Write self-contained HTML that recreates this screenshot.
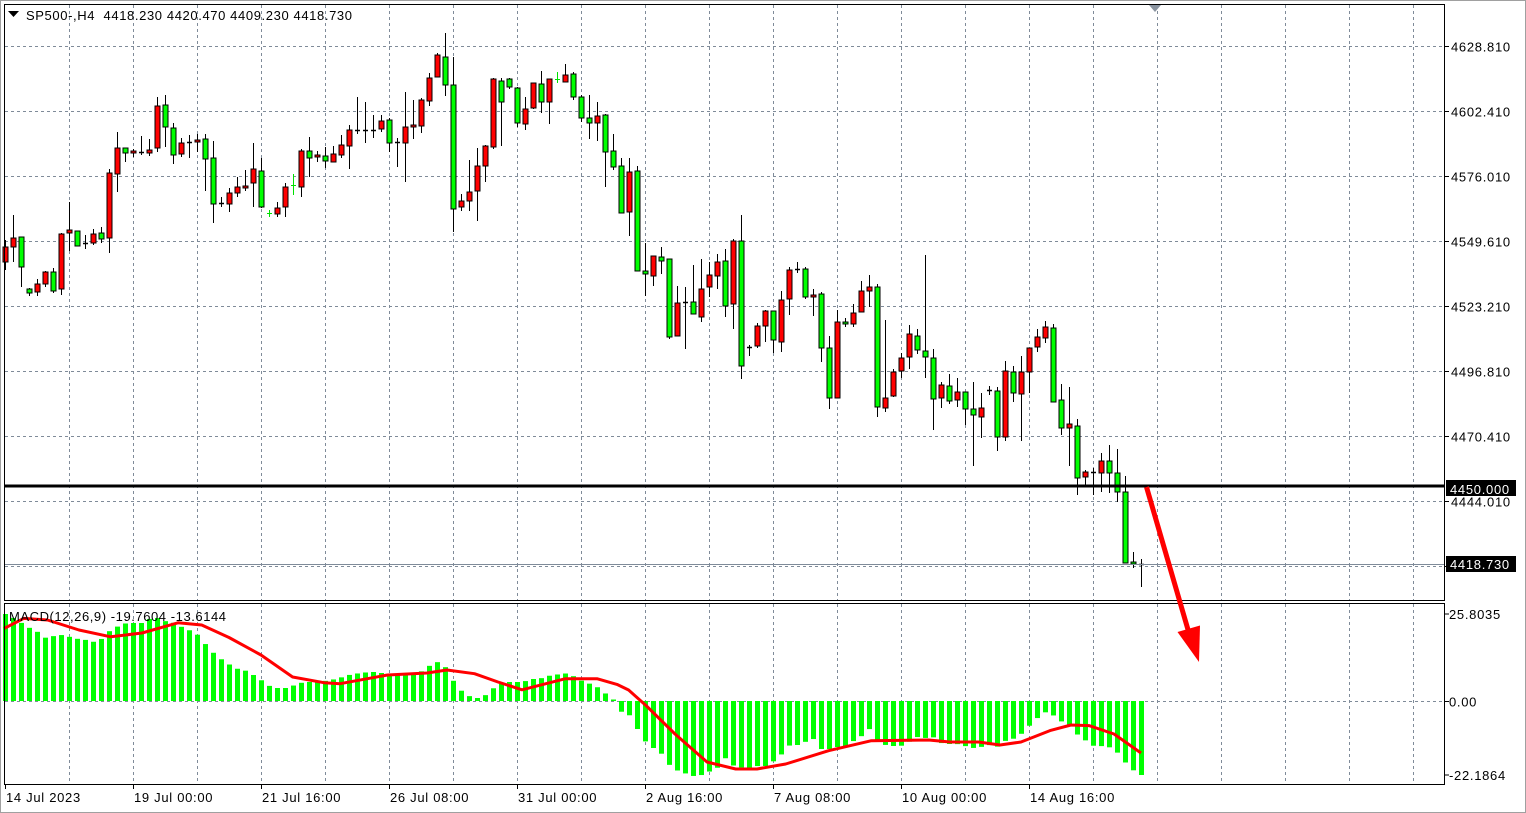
<!DOCTYPE html>
<html><head><meta charset="utf-8"><style>
html,body{margin:0;padding:0;background:#fff;}
svg{display:block;font-family:"Liberation Sans",Tahoma,sans-serif;}
</style></head><body>
<svg id="s" width="1526" height="813" xmlns="http://www.w3.org/2000/svg">
<rect x="0" y="0" width="1526" height="813" fill="#fff"/>
<rect x="0.5" y="0.5" width="1525" height="812" fill="none" stroke="#a0a0a0"/>
<g id="grid"></g>
<g id="macd"></g>
<g id="candles"></g>
<line x1="4" y1="564.5" x2="1445" y2="564.5" stroke="#7f8b99" stroke-width="1"/>
<line x1="4" y1="486" x2="1445" y2="486" stroke="#000" stroke-width="3"/>
<rect x="4.5" y="4.5" width="1440" height="596" fill="none" stroke="#000"/>
<rect x="4.5" y="603.5" width="1440" height="181" fill="none" stroke="#000"/>
<polygon points="1149,5 1161,5 1155,12" fill="#8a94a0"/>
<polygon points="8,11 19,11 13.5,17" fill="#000"/>
<text x="26" y="20" font-size="13" fill="#000" textLength="326" lengthAdjust="spacing" xml:space="preserve">SP500-,H4  4418.230 4420.470 4409.230 4418.730</text>
<text x="9" y="621" font-size="13" fill="#000" textLength="217" lengthAdjust="spacing">MACD(12,26,9) -19.7604 -13.6144</text>
<g id="axis" font-size="13" fill="#000" letter-spacing="0.7"></g>
<rect x="1446" y="480" width="70" height="16" fill="#000"/>
<text x="1450" y="494" font-size="13" fill="#fff" letter-spacing="0.7">4450.000</text>
<rect x="1446" y="556" width="70" height="16" fill="#000"/>
<text x="1450" y="569" font-size="13" fill="#fff" letter-spacing="0.7">4418.730</text>
<line x1="1146.5" y1="487" x2="1191" y2="640" stroke="#ff0000" stroke-width="5"/>
<polygon points="1177.5,632 1200,625.5 1199,662" fill="#ff0000"/>
</svg>
<script>
var NS="http://www.w3.org/2000/svg";
function el(p,t,a){var e=document.createElementNS(NS,t);for(var k in a)e.setAttribute(k,a[k]);document.getElementById(p).appendChild(e);return e;}
for(var x=69;x<=1413;x+=64){
 el("grid","line",{x1:x+.5,y1:5,x2:x+.5,y2:600,stroke:"#7f8b99","stroke-dasharray":"3,3"});
 el("grid","line",{x1:x+.5,y1:604,x2:x+.5,y2:784,stroke:"#7f8b99","stroke-dasharray":"3,3"});
}
var plab=["4628.810","4602.410","4576.010","4549.610","4523.210","4496.810","4470.410","4444.010"];
for(var k=0;k<9;k++){var y=46.5+65*k;
 el("grid","line",{x1:5,y1:y,x2:1444,y2:y,stroke:"#7f8b99","stroke-dasharray":"3,3"});
 el("axis","line",{x1:1445,y1:y,x2:1449,y2:y,stroke:"#000"});
 if(k<8){var t=el("axis","text",{x:1451,y:y+5});t.textContent=plab[k];}
}
el("grid","line",{x1:5,y1:701.5,x2:1444,y2:701.5,stroke:"#7f8b99","stroke-dasharray":"3,3"});
[[614,"25.8035"],[701.5,"0.00"],[775,"-22.1864"]].forEach(function(a){
 el("axis","line",{x1:1445,y1:a[0],x2:1449,y2:a[0],stroke:"#000"});
 var t=el("axis","text",{x:1449,y:a[0]+5});t.textContent=a[1];});
var xl=[[5,"14 Jul 2023"],[133,"19 Jul 00:00"],[261,"21 Jul 16:00"],[389,"26 Jul 08:00"],[517,"31 Jul 00:00"],[645,"2 Aug 16:00"],[773,"7 Aug 08:00"],[901,"10 Aug 00:00"],[1029,"14 Aug 16:00"]];
xl.forEach(function(a){el("axis","line",{x1:a[0]+.5,y1:784,x2:a[0]+.5,y2:789,stroke:"#000"});
 var t=el("axis","text",{x:a[0]+1,y:802});t.textContent=a[1];});
var C=[[240,270,247,262,"r"],[215,262,238,247,"r"],[237,287,237,267,"g"],[288,296,289,293,"g"],[279,296,284,292,"r"],[271,287,272,284,"r"],[268,293,272,291,"g"],[233,295,234,289,"r"],[202,251,230,233,"r"],[231,246,231,246,"g"],
[235,249,243,244,"k"],[229,245,234,243,"r"],[227,243,233,239,"g"],[169,253,173,238,"r"],[132,192,148,174,"r"],[148,162,148,153,"g"],[149,157,151,153,"r"],[136,155,152,153,"k"],[139,156,150,153,"r"],[97,152,106,148,"r"],
[95,147,105,127,"g"],[123,164,128,155,"g"],[138,157,143,154,"r"],[135,158,142,143,"k"],[134,152,140,142,"r"],[134,191,139,159,"g"],[141,223,158,204,"g"],[197,207,203,204,"k"],[188,212,193,204,"r"],[177,197,187,193,"r"],
[170,191,186,188,"r"],[143,207,169,183,"r"],[158,208,171,207,"g"],[210,217,213,214,"G"],[202,217,208,214,"r"],[183,217,187,207,"r"],[174,195,185,186,"G"],[149,197,151,187,"r"],[137,177,151,158,"g"],[151,162,155,157,"r"],
[147,168,156,161,"g"],[146,162,154,162,"r"],[135,158,145,155,"r"],[125,169,130,146,"r"],[97,134,130,131,"k"],[102,143,130,131,"k"],[115,138,130,131,"k"],[115,132,121,129,"r"],[118,152,120,143,"g"],[138,167,142,143,"k"],
[92,182,127,143,"r"],[100,139,125,127,"r"],[98,133,100,126,"r"],[73,106,78,101,"r"],[53,77,55,77,"r"],[33,96,57,85,"g"],[57,232,85,209,"g"],[194,211,201,207,"r"],[160,211,192,201,"r"],[148,221,166,191,"r"],
[145,182,146,166,"r"],[78,149,79,147,"r"],[78,146,81,102,"g"],[78,89,79,87,"g"],[87,127,88,123,"g"],[97,130,109,124,"r"],[83,109,83,108,"r"],[71,113,84,102,"g"],[79,124,79,102,"r"],[72,83,79,80,"G"],
[64,82,75,82,"r"],[72,100,74,97,"g"],[95,122,97,118,"g"],[95,139,118,123,"g"],[102,141,116,123,"r"],[114,187,115,152,"g"],[134,170,151,167,"g"],[158,213,166,213,"g"],[158,236,172,212,"r"],[166,271,171,271,"g"],
[243,296,271,274,"g"],[256,286,256,276,"r"],[247,274,257,261,"g"],[259,339,259,337,"g"],[286,336,303,336,"r"],[287,349,302,303,"k"],[265,314,302,314,"g"],[259,322,289,317,"r"],[262,297,275,287,"r"],[254,289,262,276,"r"],
[249,317,261,306,"g"],[239,329,241,304,"r"],[215,379,241,366,"g"],[345,356,347,348,"k"],[323,348,326,346,"r"],[310,342,311,326,"r"],[311,353,311,340,"g"],[291,352,300,342,"r"],[267,315,270,299,"r"],[262,273,269,270,"k"],
[267,299,269,297,"g"],[289,316,295,297,"r"],[292,362,294,348,"g"],[336,409,348,398,"g"],[310,398,322,398,"r"],[318,327,322,324,"g"],[304,327,313,324,"r"],[281,312,291,312,"r"],[275,307,287,291,"r"],[284,417,287,407,"g"],
[320,412,398,408,"r"],[369,397,372,396,"r"],[353,378,358,371,"r"],[325,369,334,357,"r"],[329,354,336,350,"g"],[255,378,351,357,"g"],[349,430,358,399,"g"],[382,408,385,398,"r"],[374,404,386,401,"g"],[378,407,392,400,"r"],
[392,425,392,409,"g"],[382,466,409,415,"g"],[393,438,408,417,"r"],[386,395,390,391,"k"],[387,451,391,437,"g"],[361,441,371,437,"r"],[366,402,372,393,"g"],[356,441,372,394,"r"],[348,393,348,372,"r"],[329,352,337,347,"r"],
[321,343,327,338,"r"],[324,402,328,402,"g"],[384,435,400,428,"g"],[387,466,424,428,"r"],[419,495,426,478,"g"],[470,485,472,477,"r"],[468,495,472,473,"k"],[453,492,461,473,"r"],[445,493,461,473,"g"],[449,502,473,492,"g"],
[476,563,492,563,"g"],[552,568,562,564,"g"],[559,587,564,565,"k"]];
C.forEach(function(c,i){var cx=5.5+8*i;
 if(c[4]=="G"){el("candles","line",{x1:cx,y1:c[0],x2:cx,y2:c[1],stroke:"#00e000","stroke-width":1});
  el("candles","line",{x1:cx-2.5,y1:c[2]+.5,x2:cx+2.5,y2:c[2]+.5,stroke:"#00e000","stroke-width":1});return;}
 el("candles","line",{x1:cx,y1:c[0],x2:cx,y2:c[1],stroke:"#000","stroke-width":1});
 if(c[4]=="k"){el("candles","line",{x1:cx-2.5,y1:c[2]+.5,x2:cx+2.5,y2:c[2]+.5,stroke:"#000","stroke-width":1.5});return;}
 var h=Math.max(c[3]-c[2],2);
 el("candles","rect",{x:cx-2.5,y:c[2],width:5,height:h,fill:c[4]=="r"?"#ff0000":"#00ff00",stroke:"#000","stroke-width":1});
});
var pos=[614,618,623,628,632,638,636,635,637,639,640,642,638.5,630,626,623,623,623,618,618,622,623,628,631,636,647,655,661,666,670,671,677,682,688,688,688,684,682,682,682,680,679,676,674,673,672,672,674,675,675,675,674,668,663,661,676,688,695,698,698,690,685,682,682,682,679,679,676,675,673,675,680,683,686,692,699.5];
var P=[];pos.forEach(function(v,i){P.push([5.5+(i*(612-5.5)/(pos.length-1)),v]);});
var N=[[621,711.5],[630,715.5],[637.5,729],[645,741],[653.5,748],[661,753],[669.6,765],[677.5,770.5],[685.7,773.5],[693.6,776],[701.8,775],[709.6,771.5],[718,767.5],[725.7,758],[734,766],[741.8,767.5],[750,767.5],[757.9,766],[766,766],[774,761],[782,754],[790,745],[798,745],[805,742],[813.6,739],[821,749],[829.6,749],[837.5,747],[845.7,746.7],[853.6,741],[861,736.6],[869.6,729],[877.5,742],[885.7,745],[893.6,746],[901.8,745.7],[909,742],[917,737],[925,738],[933,737],[941,743],[949,744],[957,744],[965,746],[973,748],[981,747],[989,745],[997,747],[1005,741],[1013,739],[1020.7,734.6],[1028.6,726.6],[1036.4,719],[1044.6,712],[1052.9,715],[1060.7,721],[1068.6,725],[1076.8,734],[1085,740],[1092.9,745.7],[1100.7,746],[1109,747],[1117,752],[1125,762],[1133,770],[1141,775]];
var ALL=P.concat([[613.5,699.5]]).concat(N);
function interp(A,x){if(x<=A[0][0])return A[0][1];for(var j=1;j<A.length;j++){if(x<=A[j][0]){var a=A[j-1],b=A[j];return a[1]+(b[1]-a[1])*(x-a[0])/(b[0]-a[0]);}}return A[A.length-1][1];}
for(var i=0;i<=142;i++){var cx=5.5+8*i;var y=interp(ALL,cx);
 var t=Math.min(y,701),b=Math.max(y,701);
 el("macd","rect",{x:cx-2.5,y:t,width:5,height:Math.max(b-t,1),fill:"#00ff00"});}
var S=[[4,628.5],[23.7,618.4],[47.5,620],[79,630],[110.7,636.8],[142,633],[178,622.8],[201.7,625],[229,637.5],[261,655],[292.6,677],[324,682.7],[340,683.7],[387.5,675],[427,673],[447,670],[474.5,673.7],[498,682],[522,689.8],[565.4,678.7],[597,678.7],[617,684.4],[628.6,690],[646,705.5],[675,734],[707,762],[735.7,769],[757,769],[785.7,764],[828.6,750.7],[871.4,740.7],[928.6,740],[950,742],[978.6,742],[1000,745],[1021,742],[1050,730.6],[1071,725],[1089,725.6],[1114,734],[1141,753]];
var d="";S.forEach(function(p,i){d+=(i?"L":"M")+p[0]+","+p[1];});
el("macd","path",{d:d,fill:"none",stroke:"#ff0000","stroke-width":3,"stroke-linejoin":"round"});
</script>
</body></html>
